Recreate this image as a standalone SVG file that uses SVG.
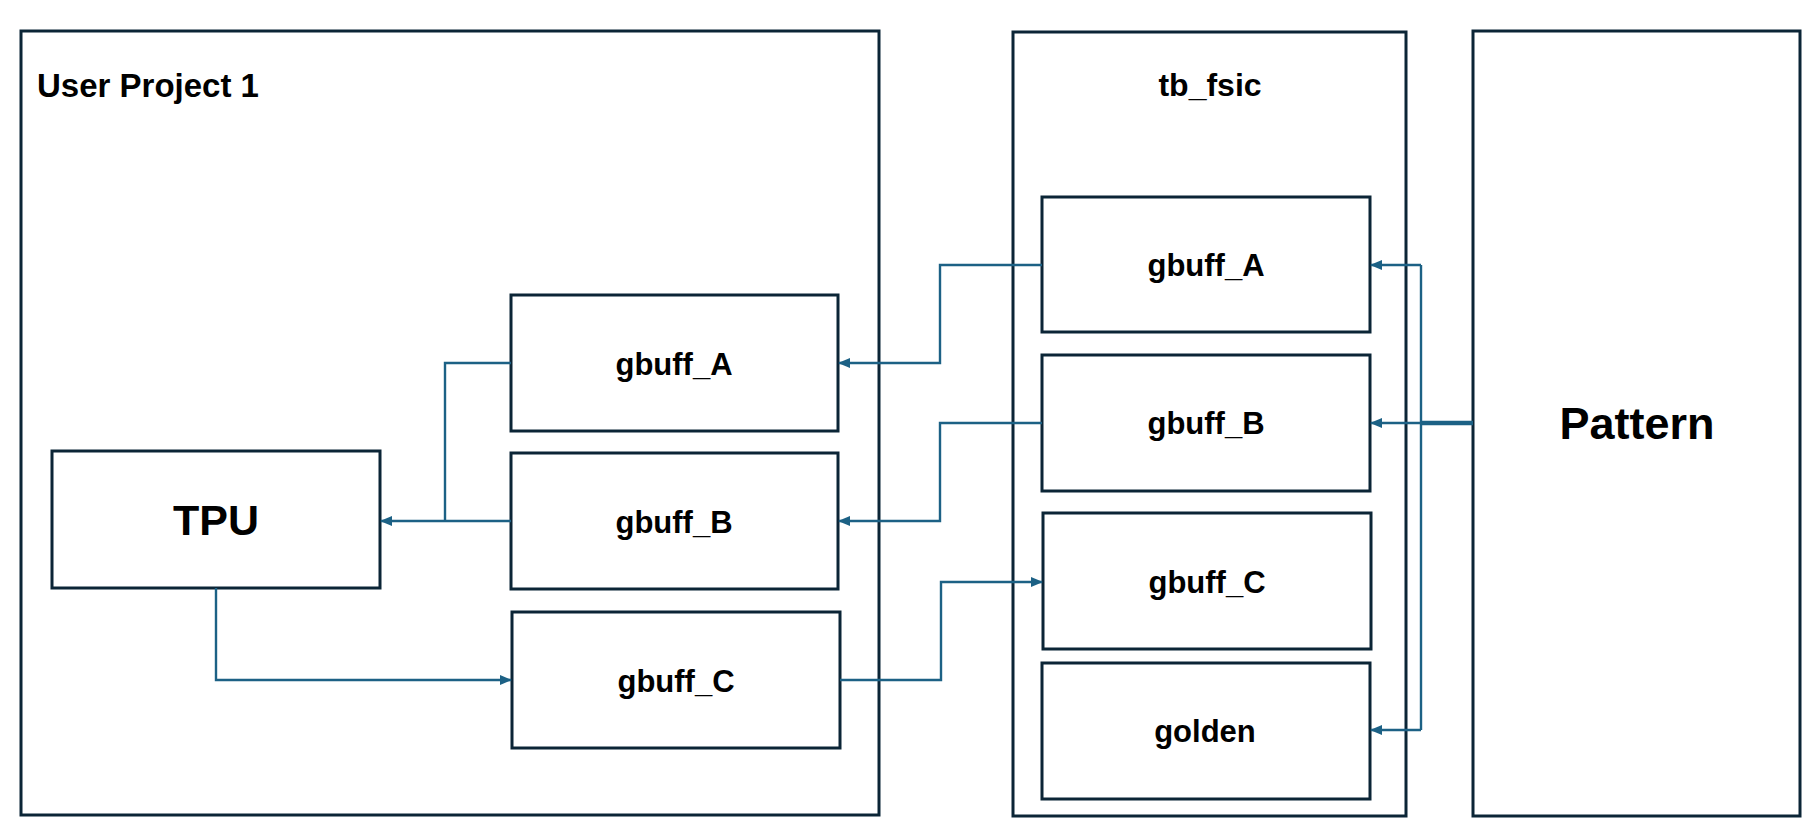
<svg xmlns="http://www.w3.org/2000/svg" width="1818" height="833" viewBox="0 0 1818 833">
<style>
.box{fill:#ffffff;stroke:#0b2536;stroke-width:3}
.lbl{font-family:"Liberation Sans",Arial,sans-serif;font-weight:bold;fill:#000000;text-anchor:middle}
.conn{fill:none;stroke:#1c6185;stroke-width:2.4}
</style>
<defs>
<marker id="arr" viewBox="0 0 12 10" refX="11" refY="5" markerWidth="12" markerHeight="10" markerUnits="userSpaceOnUse" orient="auto">
<path d="M0,0 L12,5 L0,10 Z" fill="#1c6185"/>
</marker>
</defs>
<rect width="1818" height="833" fill="#ffffff"/>
<g id="user_project_1">
<rect class="box" x="21" y="31" width="858" height="784"/>
<text class="lbl" x="37" y="97" font-size="33" style="text-anchor:start">User Project 1</text>
</g>
<g id="tb_fsic">
<rect class="box" x="1013" y="32" width="393" height="784"/>
<text class="lbl" x="1210" y="96" font-size="32">tb_fsic</text>
</g>
<g id="pattern">
<rect class="box" x="1473" y="31" width="327" height="785"/>
<text class="lbl" x="1637" y="439" font-size="45">Pattern</text>
</g>
<g id="tpu">
<rect class="box" x="52" y="451" width="328" height="137"/>
<text class="lbl" x="216" y="535" font-size="43">TPU</text>
</g>
<g id="up_gbuff_A">
<rect class="box" x="511" y="295" width="327" height="136"/>
<text class="lbl" x="674" y="375" font-size="31">gbuff_A</text>
</g>
<g id="up_gbuff_B">
<rect class="box" x="511" y="453" width="327" height="136"/>
<text class="lbl" x="674" y="533" font-size="31">gbuff_B</text>
</g>
<g id="up_gbuff_C">
<rect class="box" x="512" y="612" width="328" height="136"/>
<text class="lbl" x="676" y="692" font-size="31">gbuff_C</text>
</g>
<g id="tb_gbuff_A">
<rect class="box" x="1042" y="197" width="328" height="135"/>
<text class="lbl" x="1206" y="276" font-size="31">gbuff_A</text>
</g>
<g id="tb_gbuff_B">
<rect class="box" x="1042" y="355" width="328" height="136"/>
<text class="lbl" x="1206" y="434" font-size="31">gbuff_B</text>
</g>
<g id="tb_gbuff_C">
<rect class="box" x="1043" y="513" width="328" height="136"/>
<text class="lbl" x="1207" y="593" font-size="31">gbuff_C</text>
</g>
<g id="golden">
<rect class="box" x="1042" y="663" width="328" height="136"/>
<text class="lbl" x="1205" y="742" font-size="31">golden</text>
</g>
<g id="connectors">
<path class="conn" d="M511,363 H445 V520"/>
<path class="conn" d="M511,521 H381" marker-end="url(#arr)"/>
<path class="conn" d="M216,588 V680 H511" marker-end="url(#arr)"/>
<path class="conn" d="M840,680 H941 V582 H1042" marker-end="url(#arr)"/>
<path class="conn" d="M1042,265 H940 V363 H839" marker-end="url(#arr)"/>
<path class="conn" d="M1042,423 H940 V521 H839" marker-end="url(#arr)"/>
<path class="conn" d="M1421,265 V730"/>
<path class="conn" d="M1421,265 H1371" marker-end="url(#arr)"/>
<path class="conn" d="M1421,423 H1371" marker-end="url(#arr)"/>
<path class="conn" d="M1421,730 H1371" marker-end="url(#arr)"/>
<path class="conn" d="M1473,423 H1421" style="stroke-width:4.5"/>
</g>
</svg>
